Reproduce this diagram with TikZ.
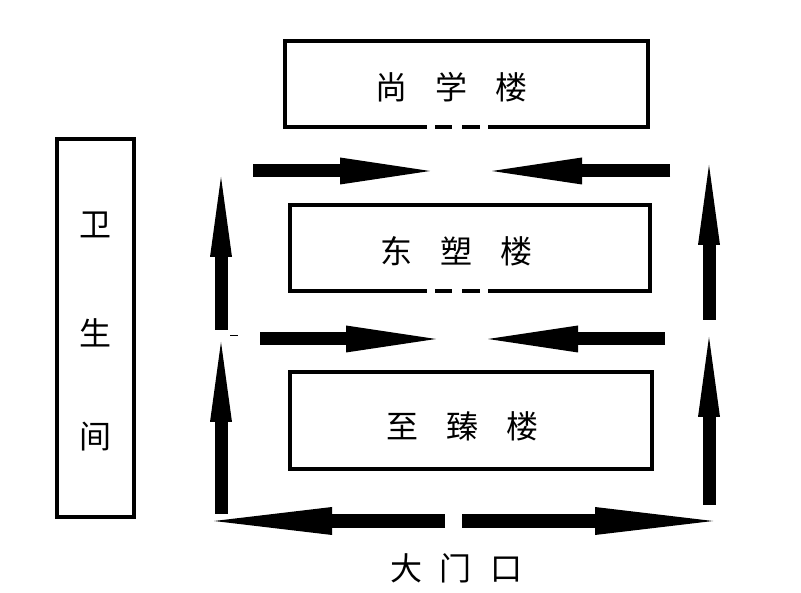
\documentclass[tikz,border=0pt]{standalone}
\usepackage{fontspec}
\newfontfamily\cjk{Noto Sans CJK SC}
\usetikzlibrary{arrows.meta}
\begin{document}
\begin{tikzpicture}[x=1pt,y=-1pt,
  bld/.style={draw, line width=4pt, inner sep=0pt},
  lbl/.style={inner sep=0pt, font=\cjk\fontsize{32}{32}\selectfont},
  harr/.style={line width=13pt, line cap=butt, -{Triangle[length=90pt,width=27pt,line width=0pt]}},
  harrl/.style={line width=14pt, line cap=butt, -{Triangle[length=118pt,width=28pt,line width=0pt]}},
  varr/.style={line width=13pt, line cap=butt, -{Triangle[length=80pt,width=22pt,line width=0pt]}},
  gapfill/.style={fill=white, draw=none},
  dashseg/.style={line width=4pt, line cap=butt},
]
\useasboundingbox[fill=white] (0,0) rectangle (801,593);
% buildings
\node[bld, minimum width=363pt, minimum height=86pt] (sx) at (466.5,84) {};
\node[bld, minimum width=360pt, minimum height=86pt] (ds) at (470,248) {};
\node[bld, minimum width=362pt, minimum height=97pt] (zz) at (471,420.5) {};
\node[bld, minimum width=77pt, minimum height=378pt] (ws) at (95.5,328) {};
% dashed gaps in bottom edges
\fill[gapfill] (427,124) rectangle (488,130);
\draw[dashseg] (435,127) -- (452,127) (462,127) -- (480,127);
\fill[gapfill] (427,288) rectangle (488,294);
\draw[dashseg] (435,291) -- (452,291) (462,291) -- (480,291);
% labels
\node[lbl] (sxt) at (451,87) {尚\hspace{28pt}学\hspace{28pt}楼};
\node[lbl] (dst) at (456,251) {东\hspace{28pt}塑\hspace{28pt}楼};
\node[lbl] (zzt) at (462,426) {至\hspace{28pt}臻\hspace{28pt}楼};
\node[lbl] (w1) at (95,225) {卫};
\node[lbl] (w2) at (95,333) {生};
\node[lbl] (w3) at (95,437) {间};
\node[lbl] (dm) at (456,568) {大\hspace{18pt}门\hspace{18pt}口};
% arrow coordinates
\coordinate (a1s) at (253,171); \coordinate (a1e) at (430,171);
\coordinate (a2s) at (670,171); \coordinate (a2e) at (492,171);
\coordinate (a3s) at (260,339); \coordinate (a3e) at (436,339);
\coordinate (a4s) at (665,339); \coordinate (a4e) at (488,339);
\coordinate (a5s) at (445,521); \coordinate (a5e) at (214,521);
\coordinate (a6s) at (462,521); \coordinate (a6e) at (713,521);
\coordinate (v1s) at (221,330); \coordinate (v1e) at (221,177);
\coordinate (v2s) at (221,514); \coordinate (v2e) at (221,342);
\coordinate (v3s) at (709,320); \coordinate (v3e) at (709,165);
\coordinate (v4s) at (709,505); \coordinate (v4e) at (709,337);
\draw[harr] (a1s) -- (a1e);
\draw[harr] (a2s) -- (a2e);
\draw[harr] (a3s) -- (a3e);
\draw[harr] (a4s) -- (a4e);
\draw[harrl] (a5s) -- (a5e);
\draw[harrl] (a6s) -- (a6e);
\draw[varr] (v1s) -- (v1e);
\draw[varr] (v2s) -- (v2e);
\draw[varr] (v3s) -- (v3e);
\draw[varr] (v4s) -- (v4e);
% small tick
\coordinate (t1) at (230,336); \coordinate (t2) at (238,336);
\draw[line width=1pt] (t1) -- (t2);
\end{tikzpicture}
\end{document}
